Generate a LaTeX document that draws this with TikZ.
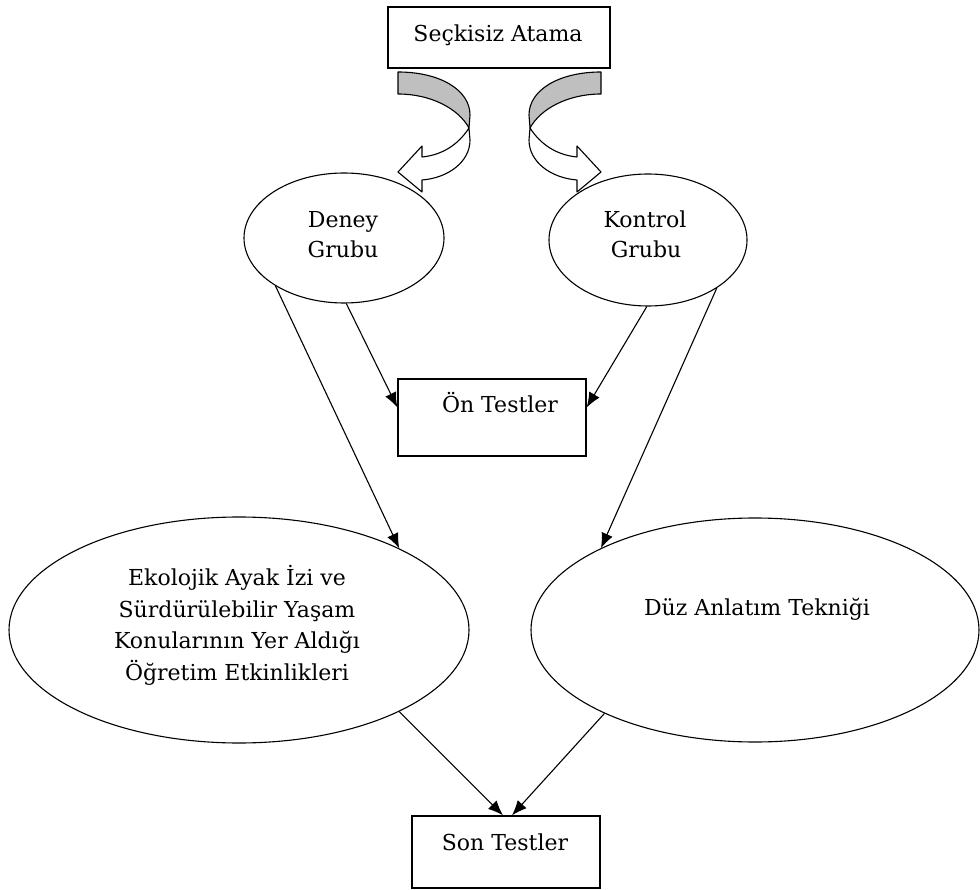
\documentclass[tikz,border=0pt]{standalone}
\usepackage{fontspec}
\setmainfont{DejaVu Serif}
\usetikzlibrary{arrows.meta,shapes.geometric}
\begin{document}
\begin{tikzpicture}[x=1pt,y=-1pt,
  txt/.style={font=\fontsize{22}{30}\selectfont, inner sep=0pt, anchor=base},
  box/.style={draw, line width=1.3pt, inner sep=0pt},
  oval/.style={draw, ellipse, line width=1.1pt, inner sep=0pt},
  arr/.style={line width=1.1pt, -{Latex[length=15pt,width=12pt]}},
  band/.style={draw, line width=1.1pt, line join=round}]

\useasboundingbox (0,0) rectangle (980,890);

% curved arrows (left)
\path[band, fill=black!25] (398,72) .. controls (440,72) and (470,90) .. (470,115)
  -- (469,128) .. controls (458,108) and (430,94) .. (398,94) -- cycle;
\path[band, fill=white] (469,128) -- (470,140) .. controls (470,162) and (448,178) .. (422,180)
  -- (422,192) -- (398,172) -- (422,146) -- (422,157)
  .. controls (442,155) and (458,145) .. (469,128) -- cycle;
% curved arrows (right, mirrored)
\path[band, fill=black!25] (601,72) .. controls (559,72) and (529,90) .. (529,115)
  -- (530,128) .. controls (541,108) and (569,94) .. (601,94) -- cycle;
\path[band, fill=white] (530,128) -- (529,140) .. controls (529,162) and (551,178) .. (577,180)
  -- (577,192) -- (601,172) -- (577,146) -- (577,157)
  .. controls (557,155) and (541,145) .. (530,128) -- cycle;

% shapes
\node[box, minimum width=222pt, minimum height=61pt] (top) at (499,37.5) {};
\node[oval, minimum width=200pt, minimum height=130pt] (deney) at (344,238) {};
\node[oval, minimum width=198pt, minimum height=132pt] (kontrol) at (648,240) {};
\node[box, minimum width=188pt, minimum height=77pt] (on) at (492,417.5) {};
\node[oval, minimum width=460pt, minimum height=226pt] (big1) at (239,630) {};
\node[oval, minimum width=448pt, minimum height=224pt] (big2) at (755,630) {};
\node[box, minimum width=188pt, minimum height=72pt] (son) at (506,852) {};

% texts
\node[txt] (t0) at (498,41.7) {Seçkisiz Atama};
\node[txt] (t1a) at (343,228) {Deney};
\node[txt] (t1b) at (343,258) {Grubu};
\node[txt] (t2a) at (645,228) {Kontrol};
\node[txt] (t2b) at (646,258) {Grubu};
\node[txt] (t3) at (500,413) {Ön Testler};
\node[txt] (t4a) at (237,585.7) {Ekolojik Ayak İzi ve};
\node[txt] (t4b) at (237,617) {Sürdürülebilir Yaşam};
\node[txt] (t4c) at (237,648.5) {Konularının Yer Aldığı};
\node[txt] (t4d) at (237,680) {Öğretim Etkinlikleri};
\node[txt] (t5) at (757,615) {Düz Anlatım Tekniği};
\node[txt] (t6) at (505,850) {Son Testler};

% connectors
\draw[arr] (deney.215) -- (big1.27);
\draw[arr] (deney.272) -- ([yshift=10pt]on.west);
\draw[arr] (kontrol.269) -- ([yshift=10pt]on.east);
\draw[arr] (kontrol.325) -- (big2.152);
\draw[arr] (big1.-27) -- ([xshift=-3pt]son.north);
\draw[arr] (big2.209) -- ([xshift=6pt]son.north);
\end{tikzpicture}
\end{document}
